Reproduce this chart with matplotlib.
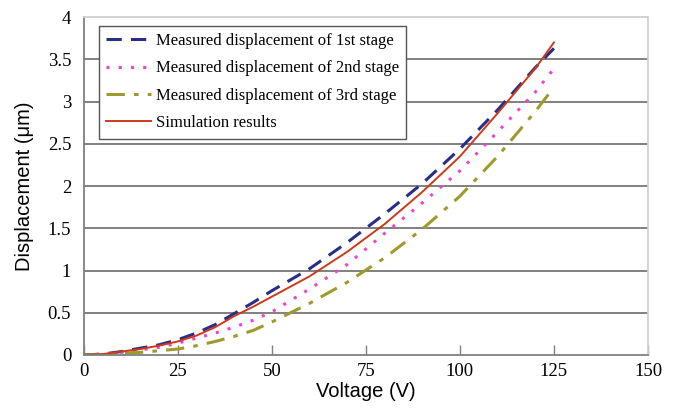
import matplotlib
matplotlib.use("Agg")
import matplotlib.pyplot as plt

voltage = [0, 5, 10, 15, 20, 25, 30, 35, 40, 45, 50, 60, 70, 80, 90, 100, 110, 120, 125]
stage1 = [0, 0.01, 0.04, 0.08, 0.12, 0.18, 0.26, 0.36, 0.49, 0.62, 0.76, 1.02, 1.33, 1.67, 2.03, 2.44, 2.90, 3.40, 3.63]
stage2 = [0, 0.01, 0.03, 0.06, 0.09, 0.14, 0.20, 0.26, 0.33, 0.41, 0.51, 0.78, 1.07, 1.44, 1.80, 2.18, 2.64, 3.11, 3.39]
stage3 = [0, 0.005, 0.02, 0.03, 0.05, 0.07, 0.11, 0.16, 0.22, 0.29, 0.39, 0.61, 0.86, 1.15, 1.49, 1.88, 2.35, 2.88, 3.17]
simulation = [0, 0.01, 0.04, 0.07, 0.11, 0.16, 0.23, 0.33, 0.46, 0.57, 0.69, 0.93, 1.22, 1.55, 1.93, 2.35, 2.86, 3.39, 3.70]

labels = ["Measured displacement of 1st stage",
          "Measured displacement of 2nd stage",
          "Measured displacement of 3rd stage",
          "Simulation results"]
xticks = [0, 25, 50, 75, 100, 125, 150]
yticks = [0, 0.5, 1, 1.5, 2, 2.5, 3, 3.5, 4]
ytick_labels = ["0", "0.5", "1", "1.5", "2", "2.5", "3", "3.5", "4"]

fig = plt.figure(figsize=(6.79, 4.08), dpi=100)
ax = fig.add_axes([0.1233, 0.130, 0.8310, 0.828])

ax.plot(voltage, stage1, color="#2a2e86", lw=2.2, ls=(0, (5, 3)), label=labels[0])
ax.plot(voltage, stage2, color="#ee44cc", lw=2.2, ls=(0, (1, 3)), label=labels[1])
ax.plot(voltage, stage3, color="#9c9c2c", lw=2.2, ls=(0, (6, 3, 1.5, 3)), label=labels[2])
ax.plot(voltage, simulation, color="#cc3a1a", lw=1.4, ls="-", label=labels[3])

ax.set_xlim(0, 150)
ax.set_ylim(0, 4)
ax.set_xticks(xticks)
ax.set_xticklabels([str(t) for t in xticks], fontfamily="Liberation Serif", fontsize=13.5)
ax.set_yticks(yticks)
ax.set_yticklabels(ytick_labels, fontfamily="Liberation Serif", fontsize=13.5)

for y in yticks[1:-1]:
    ax.axhline(y, color="#808080", lw=1.4, zorder=0)

ax.tick_params(axis="x", direction="in", length=7, width=1, color="#808080", pad=6)
ax.tick_params(axis="y", length=0, pad=9)

for side in ["left", "bottom"]:
    ax.spines[side].set_color("#808080")
    ax.spines[side].set_linewidth(1.3)
for side in ["top", "right"]:
    ax.spines[side].set_color("#d0d0d0")
    ax.spines[side].set_linewidth(1.3)

ax.set_xlabel("Voltage (V)", fontfamily="Liberation Sans", fontsize=14.5, labelpad=1)
ax.set_ylabel("Displacement (μm)", fontfamily="Liberation Sans", fontsize=14.5, labelpad=10)

leg = ax.legend(loc="upper left", bbox_to_anchor=(0.027, 0.975),
                prop={"family": "Liberation Serif", "size": 12},
                frameon=True, fancybox=False, handlelength=2.7,
                borderpad=0.45, labelspacing=0.68, handletextpad=0.25,
                borderaxespad=0)
leg.get_frame().set_edgecolor("#555555")
leg.get_frame().set_linewidth(1.0)
leg.get_frame().set_alpha(1)

fig.savefig("out.png", dpi=100)
